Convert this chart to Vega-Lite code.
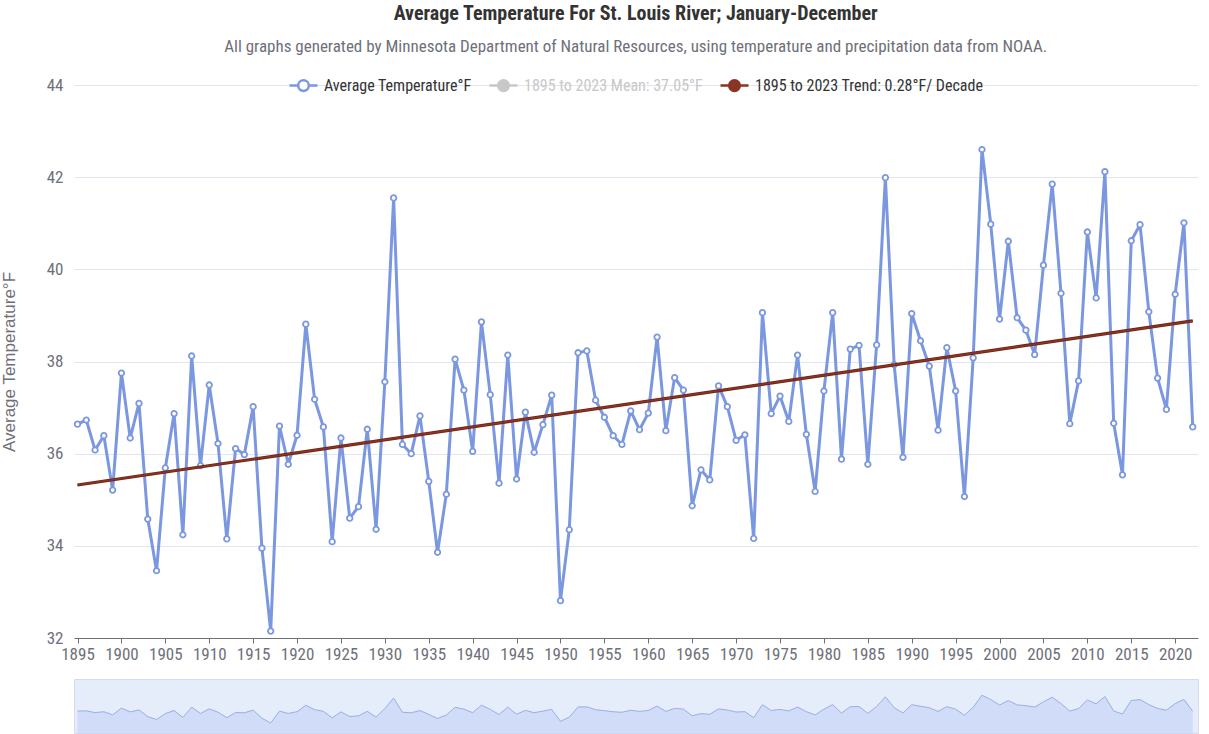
{
  "$schema": "https://vega.github.io/schema/vega-lite/v6.json",
  "background": "white",
  "padding": {"left": 0, "top": 4, "right": 9, "bottom": 0},
  "config": {
    "font": "Liberation Sans Narrow, Roboto Condensed, DejaVu Sans Condensed, Liberation Sans, sans-serif",
    "view": {"stroke": null},
    "concat": {"spacing": 16}
  },
  "title": {
    "text": "Average Temperature For St. Louis River; January-December",
    "subtitle": "All graphs generated by Minnesota Department of Natural Resources, using temperature and precipitation data from NOAA.",
    "anchor": "middle",
    "dx": 36,
    "fontSize": 20,
    "fontWeight": "bold",
    "color": "#333333",
    "subtitleFontSize": 17,
    "subtitleColor": "#6e7079",
    "subtitlePadding": 15,
    "offset": 15
  },
  "datasets": {
    "temps": [
      {"year": 1895, "temp": 36.64}, {"year": 1896, "temp": 36.73}, {"year": 1897, "temp": 36.08}, {"year": 1898, "temp": 36.39},
      {"year": 1899, "temp": 35.21}, {"year": 1900, "temp": 37.75}, {"year": 1901, "temp": 36.34}, {"year": 1902, "temp": 37.09},
      {"year": 1903, "temp": 34.58}, {"year": 1904, "temp": 33.46}, {"year": 1905, "temp": 35.69}, {"year": 1906, "temp": 36.87},
      {"year": 1907, "temp": 34.24}, {"year": 1908, "temp": 38.12}, {"year": 1909, "temp": 35.74}, {"year": 1910, "temp": 37.49},
      {"year": 1911, "temp": 36.22}, {"year": 1912, "temp": 34.15}, {"year": 1913, "temp": 36.11}, {"year": 1914, "temp": 35.98},
      {"year": 1915, "temp": 37.02}, {"year": 1916, "temp": 33.95}, {"year": 1917, "temp": 32.15}, {"year": 1918, "temp": 36.6},
      {"year": 1919, "temp": 35.77}, {"year": 1920, "temp": 36.4}, {"year": 1921, "temp": 38.81}, {"year": 1922, "temp": 37.18},
      {"year": 1923, "temp": 36.58}, {"year": 1924, "temp": 34.09}, {"year": 1925, "temp": 36.34}, {"year": 1926, "temp": 34.6},
      {"year": 1927, "temp": 34.85}, {"year": 1928, "temp": 36.53}, {"year": 1929, "temp": 34.36}, {"year": 1930, "temp": 37.56},
      {"year": 1931, "temp": 41.55}, {"year": 1932, "temp": 36.2}, {"year": 1933, "temp": 36.0}, {"year": 1934, "temp": 36.82},
      {"year": 1935, "temp": 35.4}, {"year": 1936, "temp": 33.86}, {"year": 1937, "temp": 35.12}, {"year": 1938, "temp": 38.05},
      {"year": 1939, "temp": 37.38}, {"year": 1940, "temp": 36.05}, {"year": 1941, "temp": 38.86}, {"year": 1942, "temp": 37.28},
      {"year": 1943, "temp": 35.36}, {"year": 1944, "temp": 38.14}, {"year": 1945, "temp": 35.45}, {"year": 1946, "temp": 36.9},
      {"year": 1947, "temp": 36.03}, {"year": 1948, "temp": 36.63}, {"year": 1949, "temp": 37.27}, {"year": 1950, "temp": 32.81},
      {"year": 1951, "temp": 34.35}, {"year": 1952, "temp": 38.19}, {"year": 1953, "temp": 38.23}, {"year": 1954, "temp": 37.16},
      {"year": 1955, "temp": 36.79}, {"year": 1956, "temp": 36.39}, {"year": 1957, "temp": 36.2}, {"year": 1958, "temp": 36.93},
      {"year": 1959, "temp": 36.52}, {"year": 1960, "temp": 36.88}, {"year": 1961, "temp": 38.53}, {"year": 1962, "temp": 36.5},
      {"year": 1963, "temp": 37.65}, {"year": 1964, "temp": 37.38}, {"year": 1965, "temp": 34.87}, {"year": 1966, "temp": 35.65},
      {"year": 1967, "temp": 35.43}, {"year": 1968, "temp": 37.47}, {"year": 1969, "temp": 37.02}, {"year": 1970, "temp": 36.29},
      {"year": 1971, "temp": 36.41}, {"year": 1972, "temp": 34.16}, {"year": 1973, "temp": 39.06}, {"year": 1974, "temp": 36.87},
      {"year": 1975, "temp": 37.25}, {"year": 1976, "temp": 36.7}, {"year": 1977, "temp": 38.14}, {"year": 1978, "temp": 36.42},
      {"year": 1979, "temp": 35.18}, {"year": 1980, "temp": 37.36}, {"year": 1981, "temp": 39.06}, {"year": 1982, "temp": 35.88},
      {"year": 1983, "temp": 38.27}, {"year": 1984, "temp": 38.35}, {"year": 1985, "temp": 35.77}, {"year": 1986, "temp": 38.36},
      {"year": 1987, "temp": 41.99}, {"year": 1988, "temp": 37.93}, {"year": 1989, "temp": 35.92}, {"year": 1990, "temp": 39.04},
      {"year": 1991, "temp": 38.45}, {"year": 1992, "temp": 37.9}, {"year": 1993, "temp": 36.51}, {"year": 1994, "temp": 38.3},
      {"year": 1995, "temp": 37.36}, {"year": 1996, "temp": 35.07}, {"year": 1997, "temp": 38.08}, {"year": 1998, "temp": 42.6},
      {"year": 1999, "temp": 40.98}, {"year": 2000, "temp": 38.92}, {"year": 2001, "temp": 40.61}, {"year": 2002, "temp": 38.95},
      {"year": 2003, "temp": 38.68}, {"year": 2004, "temp": 38.15}, {"year": 2005, "temp": 40.09}, {"year": 2006, "temp": 41.85},
      {"year": 2007, "temp": 39.48}, {"year": 2008, "temp": 36.65}, {"year": 2009, "temp": 37.58}, {"year": 2010, "temp": 40.81},
      {"year": 2011, "temp": 39.38}, {"year": 2012, "temp": 42.12}, {"year": 2013, "temp": 36.66}, {"year": 2014, "temp": 35.54},
      {"year": 2015, "temp": 40.62}, {"year": 2016, "temp": 40.97}, {"year": 2017, "temp": 39.08}, {"year": 2018, "temp": 37.64},
      {"year": 2019, "temp": 36.96}, {"year": 2020, "temp": 39.46}, {"year": 2021, "temp": 41.01}, {"year": 2022, "temp": 36.58}
    ],
    "trend": [
      {"year": 1895, "temp": 35.32},
      {"year": 2022, "temp": 38.88}
    ]
  },
  "vconcat": [
    {
      "width": 1124,
      "height": 553,
      "layer": [
        {
          "data": {"name": "temps"},
          "mark": {"type": "line", "strokeWidth": 3, "strokeJoin": "round"},
          "encoding": {
            "x": {
              "field": "year", "type": "quantitative",
              "scale": {"domain": [1894.6, 2022.6], "nice": false, "zero": false},
              "axis": {
                "title": null,
                "values": [1895, 1900, 1905, 1910, 1915, 1920, 1925, 1930, 1935, 1940, 1945, 1950, 1955, 1960, 1965, 1970, 1975, 1980, 1985, 1990, 1995, 2000, 2005, 2010, 2015, 2020],
                "format": "d",
                "grid": false,
                "domainColor": "#6e7079",
                "tickColor": "#6e7079",
                "tickSize": 5,
                "labelColor": "#6e7079",
                "labelFontSize": 17,
                "labelPadding": 3,
                "labelFlush": false,
                "labelOverlap": false
              }
            },
            "y": {
              "field": "temp", "type": "quantitative",
              "scale": {"domain": [32, 44], "nice": false, "zero": false},
              "axis": {
                "title": "Average Temperature°F",
                "titleFont": "Liberation Sans, sans-serif",
                "titleFontSize": 17,
                "titleFontWeight": "normal",
                "titleColor": "#6e7079",
                "titlePadding": 28,
                "values": [32, 34, 36, 38, 40, 42, 44],
                "domain": false,
                "ticks": false,
                "grid": true,
                "gridColor": "#e0e6f1",
                "labelColor": "#6e7079",
                "labelFontSize": 17,
                "labelPadding": 11
              }
            },
            "color": {
              "datum": "Average Temperature°F",
              "type": "nominal",
              "scale": {
                "domain": ["Average Temperature°F", "1895 to 2023 Mean: 37.05°F", "1895 to 2023 Trend: 0.28°F/ Decade"],
                "range": ["#7b97e0", "#c8c8c8", "#8a3524"]
              },
              "legend": {
                "title": null,
                "orient": "none",
                "direction": "horizontal",
                "legendX": 214,
                "legendY": -15,
                "symbolType": "M-1,0L-0.38,0M0.38,0L1,0M0.38,0A0.38,0.38,0,1,1,-0.38,0A0.38,0.38,0,1,1,0.38,0",
                "symbolSize": 784,
                "symbolStrokeWidth": 2.5,
                "labelFontSize": 16,
                "labelColor": "#333333",
                "labelOffset": 5,
                "columnPadding": 12,
                "labelLimit": 400,
                "encode": {
                  "symbols": {
                    "update": {
                      "fill": {"signal": "datum.value === 'Average Temperature°F' ? '#ffffff' : (datum.value === '1895 to 2023 Mean: 37.05°F' ? '#c8c8c8' : '#8a3524')"},
                      "stroke": {"signal": "datum.value === 'Average Temperature°F' ? '#7b97e0' : (datum.value === '1895 to 2023 Mean: 37.05°F' ? '#c8c8c8' : '#8a3524')"},
                      "strokeWidth": {"value": 2.5},
                      "opacity": {"value": 1}
                    }
                  },
                  "labels": {
                    "update": {
                      "fill": {"signal": "datum.value === '1895 to 2023 Mean: 37.05°F' ? '#c8c8c8' : '#333333'"}
                    }
                  }
                }
              }
            }
          }
        },
        {
          "data": {"name": "temps"},
          "mark": {"type": "point", "shape": "circle", "filled": true, "fill": "#ffffff", "stroke": "#7b97e0", "strokeWidth": 1.8, "size": 30, "opacity": 1},
          "encoding": {
            "x": {"field": "year", "type": "quantitative"},
            "y": {"field": "temp", "type": "quantitative"}
          }
        },
        {
          "data": {"name": "trend"},
          "mark": {"type": "line", "strokeWidth": 3.2, "color": "#6e2415"},
          "encoding": {
            "x": {"field": "year", "type": "quantitative"},
            "y": {"field": "temp", "type": "quantitative"}
          }
        },
        {
          "data": {"name": "trend"},
          "mark": {"type": "line", "strokeWidth": 1.6},
          "encoding": {
            "x": {"field": "year", "type": "quantitative"},
            "y": {"field": "temp", "type": "quantitative"},
            "color": {"datum": "1895 to 2023 Trend: 0.28°F/ Decade", "type": "nominal"}
          }
        }
      ]
    },
    {
      "width": 1124,
      "height": 54,
      "view": {"fill": "#e5ecfa", "stroke": "#d3dbec"},
      "data": {"name": "temps"},
      "mark": {"type": "area", "fill": "#c8d5f6", "line": {"color": "#9aaee6", "strokeWidth": 1}},
      "encoding": {
        "x": {"field": "year", "type": "quantitative", "scale": {"domain": [1894.6, 2022.6], "nice": false, "zero": false}, "axis": null},
        "y": {"field": "temp", "type": "quantitative", "scale": {"domain": [28.4, 48.7], "nice": false, "zero": false}, "axis": null}
      }
    }
  ],
  "resolve": {"scale": {"y": "independent"}}
}
